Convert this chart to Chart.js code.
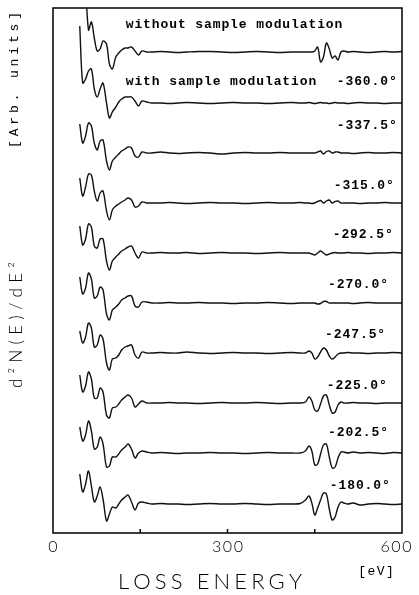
<!DOCTYPE html>
<html>
<head>
<meta charset="utf-8">
<script src="https://cdn.jsdelivr.net/npm/chart.js@4"></script>
<style>
html, body { margin: 0; padding: 0; background: #fff; }
</style>
</head>
<body>
<canvas id="chart" width="419" height="595"></canvas>
<script>
// loss energy grid (eV), shared by every spectrum
const ENERGY = [46, 51, 56, 61, 66, 71, 76, 81, 86, 92, 97, 102, 108, 113, 118, 124, 129, 135, 141, 147, 153, 161, 170,
  185, 200, 215, 230, 250, 270, 290, 310, 330, 350, 370, 390, 410, 425,
  434, 440, 445, 450, 455, 460, 465, 470, 475, 480, 485, 490, 495, 500,
  507, 516, 528, 542, 556, 570, 585, 600];

// d2N/dE2 of each spectrum, relative to its own baseline (arb. units)
const T_NOMOD = [null, null, 70, 22, 30, 14, 1, 3, 11, 8, -12, -17, -5, -1, 2, 4, 4, 5, 1, -3, 1, 0, 0,
  0.5, 0, -0.5, 0, 0.5, 0.5, 0, -0.5, 0, 0.5, 0, -0.5, 0, 0,
  0, 0, 0, 1, 5, -10, -5, 9, 3, -6, -4, -8, 0, 1,
  0, 0.5, 0, -0.5, 0, 0.5, 0, 0.5];
const T_360 = [77, 20, 24, 32, 34, 14, 6, 14, 20, 0, -15, -9, -4, 1, 4, 6, 6, 6, 2, -3, 2, 1, 0,
  0, -0.5, 0, 0.5, 0, -0.5, 0, 0.5, 0, 0, -0.5, 0, 0.5, 0,
  0, 0.5, 0, -0.5, 0, 0.5, 0, 0, -0.5, 0, 0.5, 0, 0, 0,
  -0.5, 0, 0.5, 0, 0, -0.5, 0, 0];
const T_3375 = [29, 10, 17, 30, 27, 10, 3, 12, 13, -8, -17, -8, -4, -1, 2, 4, 6, 5, -3, -4, 1, 0, 0,
  1, 0, -0.5, 0, 0.5, 0, -1, 0, 0.5, 0, 0, 0.5, 0, 0,
  0, 0, 0, 0, 1, 2, -1, 1.5, 2, 0, 1, 1, 0, 0,
  0, -0.5, 0, 0.5, 0, 0, 0.5, 0];
const T_315 = [25, 7, 16, 29, 28, 12, 2, 10, 12, -8, -17, -7, -3, -1, 1, 3, 5, 3, -4, -3, 1, 0, 0,
  0, 0.5, 0, -0.5, 0, 0.5, 0, 0, -0.5, 0, 0.5, 0, 0, 0.5,
  0, 0, -0.5, 0, 1.5, 2.5, 0, 2, 3, 0, 1.5, 2, 0, 0,
  0, 0, -0.5, 0, 0, 0.5, 0, 0];
const T_2925 = [27, 8, 14, 29, 26, 7, 5, 14, 14, -8, -17, -8, -4, -1, 2, 4, 6, 7, 0, -5, 1, 0, 0,
  0.5, 0, 0, 0.5, -0.5, 0, 0.5, 0, 0, -0.5, 0, 0.5, 0, 0,
  0, 0, -1, -2, 0, 2, 0, -2, -1, 0, 0.5, 0, 0, 0,
  0.5, 0, 0, -0.5, 0, 0, 0.5, 0];
const T_270 = [26, 9, 15, 30, 24, 5, 7, 16, 13, -11, -17, -7, -4, -1, 3, 5, 7, 7, -3, -4, 1, 1, 0,
  0, 0.5, 0, 0, 0.5, 0, 0, -0.5, 0, 0, 0.5, 0, -0.5, 0,
  0, 0, 0, 0, -1, -0.5, 1.5, 1.5, 0, 0, 0, 0, 0, 0,
  0, -0.5, 0, 0.5, 0, 0, 0, 0];
const T_2475 = [22, 10, 16, 30, 25, 6, 8, 18, 14, -10, -17, -6, -5, -2, 3, 6, 7, 8, -2, -5, 1, 0, 0,
  0.5, 0, 0, 1, 0, -0.5, 0, 0.5, 0, 0, -0.5, 0, 0.5, 0,
  0, 2, 0, -6, -4, 1, 5, 3, -3, -6, -4, -1, 0, 0,
  0.5, 0, 0, -0.5, 0, 0, 0.5, 0];
const T_225 = [28, 11, 17, 31, 24, 5, 5, 15, 11, -12, -15, -5, -4, -1, 3, 6, 8, 5, -4, -1, 2, 0, 0,
  0, 0.5, 0, 0, -0.5, 0, 0.5, 0, 0, 0.5, 0, -0.5, 0, 0,
  1, 6, 2, -7, -8, -1, 7, 8, -2, -10, -9, -2, 1, 0,
  0, 0.5, 0, 0, -0.5, 0, 0, 0];
const T_2025 = [26, 12, 18, 32, 22, 4, 6, 16, 9, -14, -13, -4, -4, -1, 3, 6, 9, 4, -5, 0, 2, 1, 0,
  0.5, 0, -0.5, 0, 0, 0.5, 0, 0, -0.5, 0, 0.5, 0, 0, 0,
  2, 7, 2, -12, -11, -1, 8, 9, -4, -15, -14, -5, 1, 1,
  0, 1, 0, 0.5, 0, -0.5, 0.5, 0];
const T_180 = [30, 12, 20, 33, 18, 2, 8, 17, 5, -17, -10, -3, -4, 0, 4, 7, 9, 2, -6, 1, 2, 1, 0,
  0.5, 0, 0, -0.5, 0, 0.5, 0, 0, 0.5, 0, -0.5, 0, 0, 0.5,
  4, 8, 1, -11, -4, 4, 11, 10, -5, -16, -13, -3, 2, 1,
  0, 1, -1, 0, 0.5, 0, -0.5, 0];

const TRACES = [T_NOMOD, T_360, T_3375, T_315, T_2925, T_270, T_2475, T_225, T_2025, T_180];
const OFFSETS = [481, 430, 380, 330, 280, 230, 180, 130, 80, 29]; // vertical stacking of the spectra
const ANGLES = ["", "-360.0°", "-337.5°", "-315.0°", "-292.5°", "-270.0°", "-247.5°", "-225.0°", "-202.5°", "-180.0°"];
const X_TICKS = [0, 300, 600];
const X_MINOR = [150, 300, 450];

const MONO = "bold 13px 'Liberation Mono'";

const datasets = TRACES.map(function (vals, i) {
    return {
        label: i === 0 ? "without sample modulation" : ANGLES[i],
        data: ENERGY.map(function (e, j) {
            return {x: e, y: vals[j] == null ? null : OFFSETS[i] + vals[j]};
        }),
        borderColor: "#111",
        borderWidth: 1.4,
        pointRadius: 0,
        tension: 0.35,
        fill: false,
        clip: 0
    };
});

// draw a string one character at a time with extra spacing
function spaced(ctx, str, x, y, gap, align) {
    const chars = Array.from(str);
    let w = 0;
    chars.forEach(function (c) { w += ctx.measureText(c).width; });
    w += gap * (chars.length - 1);
    let cx = align === "right" ? x - w : align === "center" ? x - w / 2 : x;
    ctx.textAlign = "left";
    chars.forEach(function (c) {
        ctx.fillText(c, cx, y);
        cx += ctx.measureText(c).width + gap;
    });
}
// same, but spread to fill a given width
function spread(ctx, str, cx, y, width) {
    const chars = Array.from(str);
    let w = 0;
    chars.forEach(function (c) { w += ctx.measureText(c).width; });
    spaced(ctx, str, cx, y, (width - w) / (chars.length - 1), "center");
}

const framePlugin = {
    id: "frame",
    afterDatasetsDraw(chart) {
        const ctx = chart.ctx, a = chart.chartArea;
        const x = chart.scales.x, y = chart.scales.y;
        ctx.save();
        ctx.strokeStyle = "#000";
        ctx.lineWidth = 1.5;
        ctx.strokeRect(a.left, a.top, a.right - a.left, a.bottom - a.top);
        X_MINOR.forEach(function (v) {
            const px = x.getPixelForValue(v);
            ctx.beginPath();
            ctx.moveTo(px, a.bottom);
            ctx.lineTo(px, a.bottom - 4);
            ctx.stroke();
        });
        ctx.fillStyle = "#000";
        ctx.textBaseline = "middle";

        // spectrum labels
        ctx.font = MONO;
        spaced(ctx, "without sample modulation", x.getPixelForValue(125), y.getPixelForValue(OFFSETS[0] + 27), 0.9, "left");
        spaced(ctx, "with sample modulation", x.getPixelForValue(125), y.getPixelForValue(OFFSETS[1] + 21), 0.9, "left");
        const labelRight = [0, 591, 591, 586, 584, 576, 571, 574, 576, 579];
        const labelUp = [0, 21, 27, 17, 18, 18, 18, 17, 20, 18];
        for (let i = 1; i < ANGLES.length; i++) {
            spaced(ctx, ANGLES[i], x.getPixelForValue(labelRight[i]), y.getPixelForValue(OFFSETS[i] + labelUp[i]), 0.9, "right");
        }

        // x tick labels
        ctx.font = "300 16px Lato";
        X_TICKS.forEach(function (v, i) {
            let px = x.getPixelForValue(v);
            if (i === X_TICKS.length - 1) px -= 6;
            spaced(ctx, String(v), px, a.bottom + 14, 1.5, "center");
        });
        ctx.font = "300 22px Lato";
        spread(ctx, "LOSS ENERGY", 210, 582, 184);
        ctx.font = "13px 'Liberation Mono'";
        spaced(ctx, "[eV]", 376, 572, 1.5, "center");

        // y titles
        ctx.save();
        ctx.translate(17, 325);
        ctx.rotate(-Math.PI / 2);
        ctx.font = "300 17px Lato";
        spread(ctx, "d²N(E)/dE²", 0, 0, 126);
        ctx.restore();
        ctx.save();
        ctx.translate(15, 80);
        ctx.rotate(-Math.PI / 2);
        ctx.font = "13px 'Liberation Mono'";
        spread(ctx, "[Arb. units]", 0, 0, 136);
        ctx.restore();
        ctx.restore();
    }
};

new Chart(document.getElementById("chart"), {
    type: "line",
    data: {datasets: datasets},
    options: {
        responsive: false,
        animation: false,
        layout: {padding: {left: 53, right: 17, top: 8, bottom: 62}},
        scales: {
            x: {type: "linear", min: 0, max: 600, display: false},
            y: {type: "linear", min: 0, max: 525, display: false}
        },
        plugins: {legend: {display: false}, tooltip: {enabled: false}}
    },
    plugins: [framePlugin]
});
</script>
</body>
</html>
